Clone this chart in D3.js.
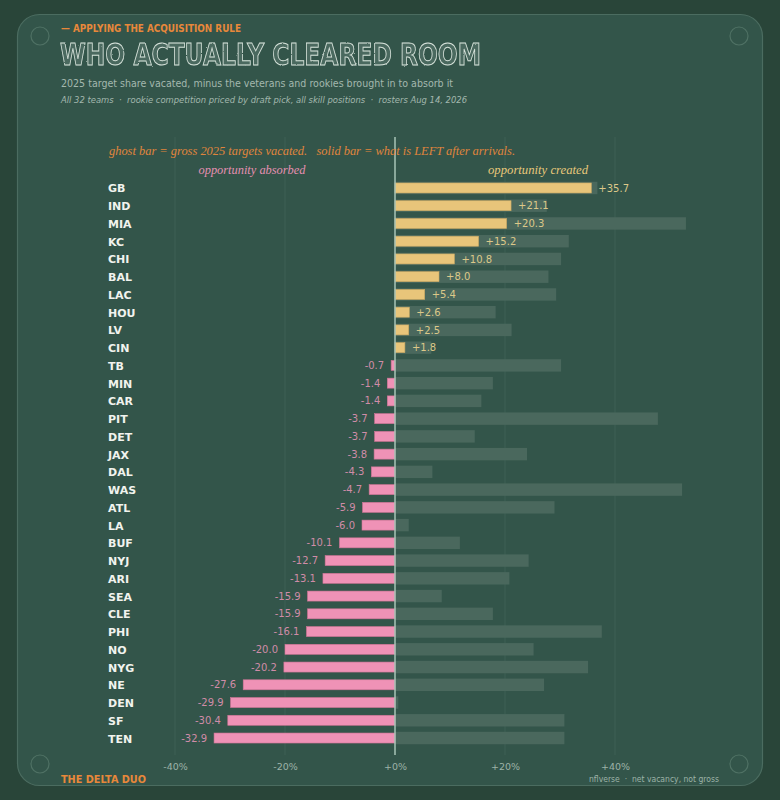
<!DOCTYPE html>
<html>
<head>
<meta charset="utf-8">
<script src="https://cdn.jsdelivr.net/npm/d3@7"></script>
<style>
  html, body { margin: 0; padding: 0; background: #294539; }
  svg { display: block; }
  svg text { white-space: pre; }
</style>
</head>
<body>
<div id="chart"></div>
<script>
// net = gross vacated minus what the arrivals absorb, in % target share
const teams = ['GB','IND','MIA','KC','CHI','BAL','LAC','HOU','LV','CIN','TB','MIN','CAR','PIT','DET','JAX',
  'DAL','WAS','ATL','LA','BUF','NYJ','ARI','SEA','CLE','PHI','NO','NYG','NE','DEN','SF','TEN'];
const netVacated = [35.7, 21.1, 20.3, 15.2, 10.8, 8.0, 5.4, 2.6, 2.5, 1.8, -0.7, -1.4, -1.4, -3.7, -3.7, -3.8,
  -4.3, -4.7, -5.9, -6.0, -10.1, -12.7, -13.1, -15.9, -15.9, -16.1, -20.0, -20.2, -27.6, -29.9, -30.4, -32.9];
const grossVacated = [36.8, 27.6, 52.9, 31.6, 30.2, 27.9, 29.3, 18.3, 21.2, 6.6, 30.2, 17.8, 15.7, 47.8, 14.5, 24.0,
  6.8, 52.2, 29.0, 2.5, 11.8, 24.3, 20.8, 8.5, 17.8, 37.6, 25.2, 35.1, 27.1, 0.6, 30.8, 30.8];
const xTicks = [-40, -20, 0, 20, 40];

const W = 780, H = 800;
const rows = teams.map((t, i) => ({team: t, net: netVacated[i], gross: grossVacated[i]}));

const svg = d3.select('#chart').append('svg')
    .attr('width', W)
    .attr('height', H);

// card
svg.append('rect')
    .attr('x', 17.5).attr('y', 14.5)
    .attr('width', 745).attr('height', 771)
    .attr('rx', 22)
    .attr('fill', '#33554a')
    .attr('stroke', '#4b6c60')
    .attr('stroke-width', 1.2);

[[40, 36], [739, 36], [40, 764], [739, 764]].forEach(c => {
    svg.append('circle')
        .attr('cx', c[0]).attr('cy', c[1]).attr('r', 9)
        .attr('fill', 'none')
        .attr('stroke', '#4f7164')
        .attr('stroke-width', 1.2);
});

// headings
svg.append('text')
    .attr('x', 61).attr('y', 32)
    .attr('textLength', 180)
    .attr('lengthAdjust', 'spacingAndGlyphs')
    .style('font', 'bold 10px "DejaVu Sans", sans-serif')
    .attr('fill', '#e8883a')
    .text('— APPLYING THE ACQUISITION RULE');

let defs = svg.append('defs');
let chalk = defs.append('filter').attr('id', 'chalk');
chalk.append('feTurbulence')
    .attr('type', 'fractalNoise').attr('baseFrequency', 0.9).attr('numOctaves', 2).attr('result', 'noise');
chalk.append('feDisplacementMap')
    .attr('in', 'SourceGraphic').attr('in2', 'noise').attr('scale', 1.8);

svg.append('text')
    .attr('x', 60).attr('y', 65)
    .attr('textLength', 421)
    .attr('lengthAdjust', 'spacingAndGlyphs')
    .style('font', 'bold 30px "DejaVu Sans", sans-serif')
    .attr('fill', 'rgba(215,228,220,0.14)')
    .attr('stroke', '#d6e2da')
    .attr('stroke-width', 1)
    .attr('filter', 'url(#chalk)')
    .text('WHO ACTUALLY CLEARED ROOM');

svg.append('text')
    .attr('x', 61).attr('y', 87)
    .attr('textLength', 392)
    .attr('lengthAdjust', 'spacingAndGlyphs')
    .style('font', '11px "DejaVu Sans", sans-serif')
    .attr('fill', '#a3b8ae')
    .text('2025 target share vacated, minus the veterans and rookies brought in to absorb it');

svg.append('text')
    .attr('x', 61).attr('y', 103)
    .attr('textLength', 406)
    .attr('lengthAdjust', 'spacingAndGlyphs')
    .style('font', 'italic 9.5px "DejaVu Sans", sans-serif')
    .attr('fill', '#a3b8ae')
    .text('All 32 teams  ·  rookie competition priced by draft pick, all skill positions  ·  rosters Aug 14, 2026');

// scales
let x = d3.scaleLinear().domain([-40, 40]).range([175, 615]);
let y = d3.scaleBand().domain(teams).range([179.1, 746.9]).paddingInner(0.3).paddingOuter(0.15);

// gridlines
let chart = svg.append('g');
chart.selectAll('.grid')
    .data(xTicks.filter(d => d !== 0))
    .enter().append('line')
    .attr('class', 'grid')
    .attr('x1', d => x(d)).attr('x2', d => x(d))
    .attr('y1', 137).attr('y2', 755)
    .attr('stroke', '#3f6154')
    .attr('stroke-width', 1);

// annotations
svg.append('text')
    .attr('x', 109).attr('y', 155)
    .attr('textLength', 406)
    .attr('lengthAdjust', 'spacingAndGlyphs')
    .style('font', 'italic 13px "Liberation Serif", serif')
    .attr('fill', '#e0853c')
    .text('ghost bar = gross 2025 targets vacated.   solid bar = what is LEFT after arrivals.');

svg.append('text')
    .attr('x', 252).attr('y', 174)
    .attr('text-anchor', 'middle')
    .attr('textLength', 107)
    .attr('lengthAdjust', 'spacingAndGlyphs')
    .style('font', 'italic 13px "Liberation Serif", serif')
    .attr('fill', '#e58fb2')
    .text('opportunity absorbed');

svg.append('text')
    .attr('x', 538).attr('y', 174)
    .attr('text-anchor', 'middle')
    .attr('textLength', 100)
    .attr('lengthAdjust', 'spacingAndGlyphs')
    .style('font', 'italic 13px "Liberation Serif", serif')
    .attr('fill', '#e8c87a')
    .text('opportunity created');

// ghost bars (gross vacated)
let ghostH = 12.4, solidH = 10;
chart.selectAll('.ghost')
    .data(rows)
    .enter().append('rect')
    .attr('class', 'ghost')
    .attr('x', x(0))
    .attr('y', d => y(d.team) + y.bandwidth() / 2 - ghostH / 2)
    .attr('width', d => x(d.gross) - x(0))
    .attr('height', ghostH)
    .attr('fill', '#4a685d');

// solid bars (net)
chart.selectAll('.solid')
    .data(rows)
    .enter().append('rect')
    .attr('class', 'solid')
    .attr('x', d => x(Math.min(0, d.net)))
    .attr('y', d => y(d.team) + y.bandwidth() / 2 - solidH / 2)
    .attr('width', d => Math.abs(x(d.net) - x(0)))
    .attr('height', solidH)
    .attr('fill', d => d.net >= 0 ? '#e8c57a' : '#ef92b6')
    .attr('stroke', d => d.net >= 0 ? '#c9a862' : '#cf7596')
    .attr('stroke-width', 0.6);

// value labels
chart.selectAll('.val')
    .data(rows)
    .enter().append('text')
    .attr('class', 'val')
    .attr('x', d => d.net >= 0 ? x(d.net) + 7 : x(d.net) - 7)
    .attr('y', d => y(d.team) + y.bandwidth() / 2 + 3.6)
    .attr('text-anchor', d => d.net >= 0 ? 'start' : 'end')
    .style('font', '10px "DejaVu Sans", sans-serif')
    .attr('fill', d => d.net >= 0 ? '#dcc889' : '#d08ca8')
    .text(d => (d.net >= 0 ? '+' : '') + d.net.toFixed(1));

// team labels
chart.selectAll('.team')
    .data(rows)
    .enter().append('text')
    .attr('class', 'team')
    .attr('x', 108)
    .attr('y', d => y(d.team) + y.bandwidth() / 2 + 4.5)
    .style('font', 'bold 11px "DejaVu Sans", sans-serif')
    .attr('fill', '#f1f3ee')
    .text(d => d.team);

// zero line
chart.append('line')
    .attr('x1', x(0)).attr('x2', x(0))
    .attr('y1', 137).attr('y2', 755)
    .attr('stroke', '#a9c4b7')
    .attr('stroke-width', 1.5);

// x axis
let xAxis = svg.append('g')
    .attr('transform', 'translate(0,757)')
    .call(d3.axisBottom(x).tickValues(xTicks).tickSize(0).tickPadding(6)
        .tickFormat(d => (d >= 0 ? '+' : '') + d + '%'));
xAxis.select('.domain').remove();
xAxis.selectAll('text')
    .style('font', '9.5px "DejaVu Sans", sans-serif')
    .attr('fill', '#9db3a8');

// footer
svg.append('text')
    .attr('x', 61).attr('y', 783)
    .attr('textLength', 85)
    .attr('lengthAdjust', 'spacingAndGlyphs')
    .style('font', 'bold 10.5px "DejaVu Sans", sans-serif')
    .attr('fill', '#e8883a')
    .text('THE DELTA DUO');

svg.append('text')
    .attr('x', 719).attr('y', 782)
    .attr('text-anchor', 'end')
    .attr('textLength', 130)
    .attr('lengthAdjust', 'spacingAndGlyphs')
    .style('font', '9px "DejaVu Sans", sans-serif')
    .attr('fill', '#9db3a8')
    .text('nflverse  ·  net vacancy, not gross');
</script>
</body>
</html>
